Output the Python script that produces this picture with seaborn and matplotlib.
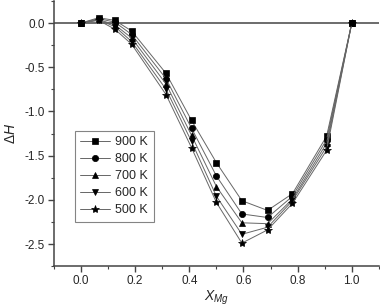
import numpy as np
import pandas as pd
import matplotlib
matplotlib.use("Agg")
import matplotlib.pyplot as plt
import seaborn as sns
from matplotlib.ticker import MultipleLocator

# composition points (x_Mg)
x_mg = [0.0, 0.065, 0.125, 0.187, 0.314, 0.408, 0.5, 0.594, 0.689, 0.781, 0.907, 1.0]

# enthalpy of mixing for each temperature
h_900 = [0.0, 0.06, 0.03, -0.09, -0.57, -1.10, -1.58, -2.01, -2.12, -1.93, -1.28, 0.0]
h_800 = [0.0, 0.05, 0.01, -0.13, -0.63, -1.19, -1.73, -2.16, -2.20, -1.96, -1.32, 0.0]
h_700 = [0.0, 0.04, -0.02, -0.17, -0.69, -1.27, -1.85, -2.26, -2.27, -1.99, -1.36, 0.0]
h_600 = [0.0, 0.035, -0.04, -0.21, -0.75, -1.34, -1.96, -2.39, -2.31, -2.01, -1.40, 0.0]
h_500 = [0.0, 0.03, -0.07, -0.24, -0.81, -1.41, -2.03, -2.49, -2.34, -2.04, -1.44, 0.0]

labels = ["900 K", "800 K", "700 K", "600 K", "500 K"]
series = [h_900, h_800, h_700, h_600, h_500]
markers = ["s", "o", "^", "v", "*"]
msizes = [4, 4.5, 4.5, 4.5, 6]

sns.set_style("ticks")
plt.rcParams["font.family"] = ["Liberation Sans", "DejaVu Sans"]
plt.rcParams["mathtext.fontset"] = "custom"
plt.rcParams["mathtext.rm"] = "Liberation Sans"
plt.rcParams["mathtext.it"] = "Liberation Sans:italic"

fig = plt.figure(figsize=(3.8, 3.08), dpi=100)
ax = fig.add_axes([0.142, 0.136, 0.855, 0.861])

ax.axhline(0, color="#444444", lw=1.1, zorder=1)

for lab, h, m, s in zip(labels, series, markers, msizes):
    sns.lineplot(x=x_mg, y=h, ax=ax, color="#666666", lw=0.7,
                 marker=m, markersize=s, markerfacecolor="black",
                 markeredgecolor="black", markeredgewidth=0.5,
                 label=lab, zorder=3)

ax.set_xlim(-0.1, 1.1)
ax.set_ylim(-2.75, 0.25)
ax.xaxis.set_minor_locator(MultipleLocator(0.1))
ax.yaxis.set_minor_locator(MultipleLocator(0.25))
ax.set_xticks(np.arange(0, 1.01, 0.2))
ax.set_xticklabels(["0.0", "0.2", "0.4", "0.6", "0.8", "1.0"])
ax.set_yticks(np.arange(-2.5, 0.01, 0.5))
ax.set_yticklabels(["-2.5", "-2.0", "-1.5", "-1.0", "-0.5", "0.0"])

for sp in ["top", "right"]:
    ax.spines[sp].set_visible(False)
for sp in ["left", "bottom"]:
    ax.spines[sp].set_color("#444444")
    ax.spines[sp].set_linewidth(1.1)
ax.tick_params(which="major", direction="out", length=4, width=1, color="#444444",
               labelsize=8.5, pad=2.5)
ax.tick_params(which="minor", direction="out", length=2, width=0.8, color="#444444")

ax.set_xlabel(r"$X_{Mg}$", fontsize=10, labelpad=1)
ax.set_ylabel(r"$\Delta H$", fontsize=10, labelpad=5)

leg = ax.legend(loc="upper left", bbox_to_anchor=(0.064, 0.51), fontsize=9,
                frameon=True, fancybox=False, edgecolor="#666666",
                handlelength=2.4, handletextpad=0.4, labelspacing=0.4,
                borderpad=0.45, borderaxespad=0)
leg.get_frame().set_linewidth(0.8)

fig.savefig("out.png", dpi=100)
